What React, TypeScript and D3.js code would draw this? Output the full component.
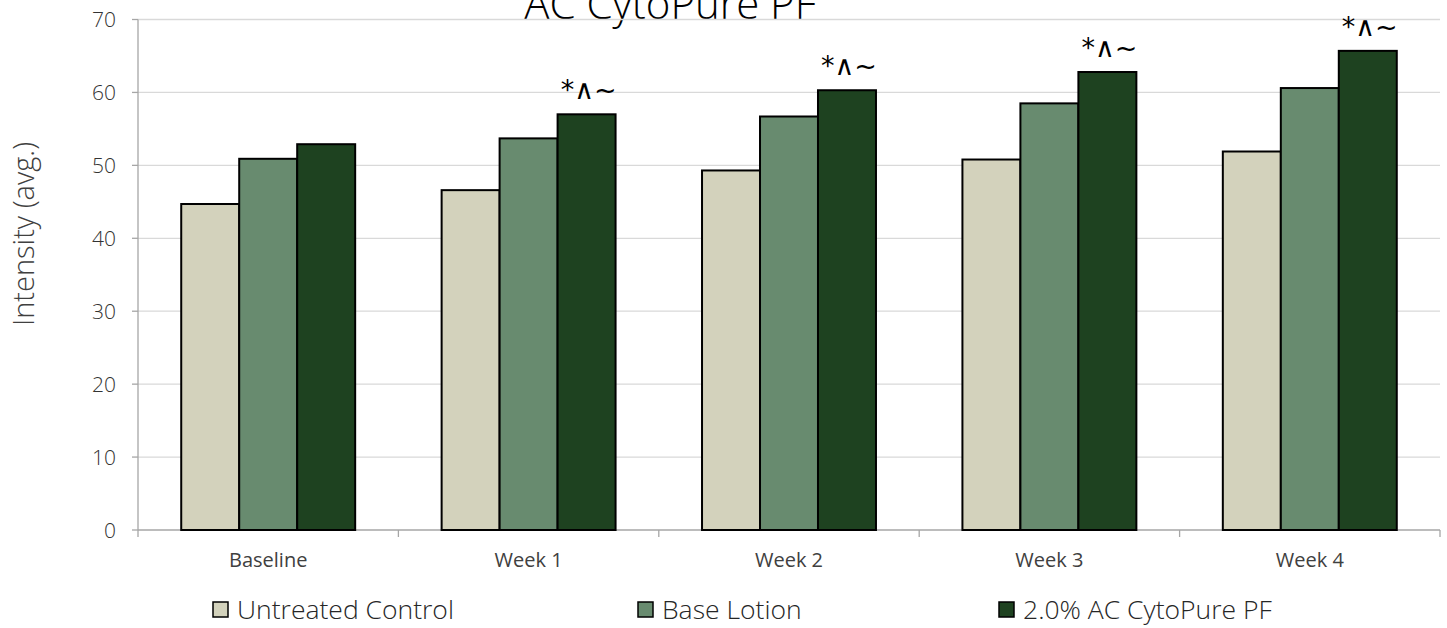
import React from "react";
import * as d3 from "d3";

const categories = ["Baseline", "Week 1", "Week 2", "Week 3", "Week 4"];
const seriesNames = ["Untreated Control", "Base Lotion", "2.0% AC CytoPure PF"];
const untreated = [44.7, 46.6, 49.3, 50.8, 51.9];
const baseLotion = [50.9, 53.7, 56.7, 58.5, 60.6];
const cytoPure = [52.9, 57.0, 60.3, 62.8, 65.7];
const annotations = ["", "*∧~", "*∧~", "*∧~", "*∧~"];
const yTicks = [0, 10, 20, 30, 40, 50, 60, 70];
const colors = ["#D3D2BC", "#688B6F", "#1E4220"];

const W = 1447;
const H = 628;
const FONT = "'Open Sans', 'Noto Sans', sans-serif";

export default function App() {
  const left = 138, right = 1440, top = 19.5, bottom = 530;
  const series = [untreated, baseLotion, cytoPure];
  const x = d3.scaleBand<string>().domain(categories).range([left, right]).paddingInner(0.332).paddingOuter(0.166);
  const x1 = d3.scaleBand<number>().domain([0, 1, 2]).range([0, x.bandwidth()]);
  const y = d3.scaleLinear().domain([0, 70]).range([bottom, top]);
  const step = x.step();
  const boundaries = d3.range(categories.length + 1).map((i) => left + i * step);
  const legendX = [213, 638, 999];

  return (
    <svg width={W} height={H} style={{ position: "absolute", left: 0, top: 0, display: "block", background: "#fff" }}>
      <text x={670} y={19} textAnchor="middle" fontFamily={FONT} fontWeight={300} fontSize={42} fill="#000">
        AC CytoPure PF
      </text>
      {yTicks.map((t) => (
        <g key={t}>
          {t > 0 && <line x1={left} x2={right} y1={y(t)} y2={y(t)} stroke="#d9d9d9" strokeWidth={1.3} />}
          <line x1={left - 6} x2={left} y1={y(t)} y2={y(t)} stroke="#a6a6a6" strokeWidth={1.3} />
          <text x={116} y={y(t)} dy="0.36em" textAnchor="end" fontFamily={FONT} fontWeight={300} fontSize={21} fill="#333">
            {t}
          </text>
        </g>
      ))}
      <line x1={left} x2={left} y1={top} y2={bottom} stroke="#a6a6a6" strokeWidth={1.3} />
      <line x1={left} x2={right} y1={bottom} y2={bottom} stroke="#a6a6a6" strokeWidth={1.3} />
      {boundaries.map((b, i) => (
        <line key={i} x1={b} x2={b} y1={bottom} y2={bottom + 7} stroke="#a6a6a6" strokeWidth={1.3} />
      ))}
      {categories.map((c, ci) => (
        <g key={c}>
          {series.map((s, si) => (
            <rect
              key={si}
              x={(x(c) as number) + (x1(si) as number)}
              y={y(s[ci])}
              width={x1.bandwidth()}
              height={bottom - y(s[ci])}
              fill={colors[si]}
              stroke="#000"
              strokeWidth={2}
            />
          ))}
          {annotations[ci] && (
            <text
              x={(x(c) as number) + (x1(2) as number) + x1.bandwidth() / 2 + 2}
              y={y(cytoPure[ci]) - 15}
              textAnchor="middle"
              fontFamily="'DejaVu Sans', sans-serif"
              fontSize={27}
              fill="#000"
            >
              {annotations[ci]}
            </text>
          )}
          <text x={(x(c) as number) + x.bandwidth() / 2} y={567} textAnchor="middle" fontFamily={FONT} fontSize={20} fill="#404040">
            {c}
          </text>
        </g>
      ))}
      <text transform={`translate(34, 234) rotate(-90)`} textAnchor="middle" fontFamily={FONT} fontWeight={300} fontSize={29} fill="#404040">
        Intensity (avg.)
      </text>
      {seriesNames.map((n, i) => (
        <g key={n}>
          <rect x={legendX[i]} y={602} width={15} height={15} fill={colors[i]} stroke="#000" strokeWidth={1.5} />
          <text x={legendX[i] + 24} y={619} fontFamily={FONT} fontWeight={300} fontSize={26.5} fill="#262626">
            {n}
          </text>
        </g>
      ))}
    </svg>
  );
}
